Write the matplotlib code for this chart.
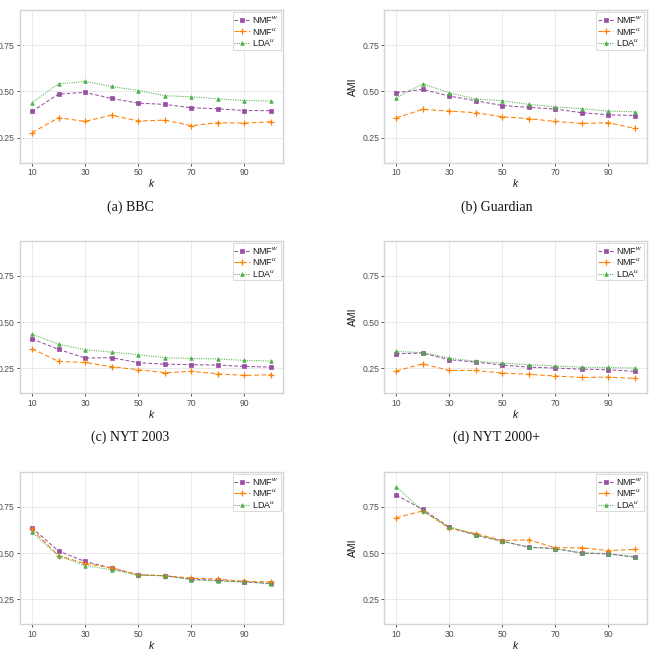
import matplotlib
matplotlib.use("Agg")
import matplotlib.pyplot as plt

k_values = [10, 20, 30, 40, 50, 60, 70, 80, 90, 100]
x_ticks = [10, 30, 50, 70, 90]
y_ticks = [0.25, 0.50, 0.75]
series_names = ["NMF$^{w}$", "NMF$^{u}$", "LDA$^{u}$"]
captions = ["(a) BBC", "(b) Guardian", "(c) NYT 2003", "(d) NYT 2000+", None, None]

bbc_nmf_w = [0.392, 0.486, 0.495, 0.462, 0.437, 0.430, 0.412, 0.406, 0.397, 0.396]
bbc_nmf_u = [0.277, 0.358, 0.338, 0.372, 0.340, 0.345, 0.315, 0.331, 0.329, 0.336]
bbc_lda_u = [0.439, 0.541, 0.554, 0.527, 0.505, 0.477, 0.471, 0.460, 0.451, 0.448]

guardian_nmf_w = [0.493, 0.511, 0.475, 0.450, 0.424, 0.414, 0.405, 0.385, 0.374, 0.370]
guardian_nmf_u = [0.358, 0.403, 0.394, 0.385, 0.363, 0.353, 0.338, 0.327, 0.331, 0.300]
guardian_lda_u = [0.466, 0.541, 0.493, 0.459, 0.450, 0.430, 0.417, 0.406, 0.394, 0.390]

nyt2003_nmf_w = [0.410, 0.353, 0.306, 0.308, 0.281, 0.273, 0.270, 0.268, 0.261, 0.257]
nyt2003_nmf_u = [0.356, 0.288, 0.282, 0.259, 0.243, 0.227, 0.234, 0.221, 0.212, 0.216]
nyt2003_lda_u = [0.435, 0.381, 0.351, 0.338, 0.324, 0.308, 0.304, 0.301, 0.293, 0.290]

nyt2000_nmf_w = [0.329, 0.333, 0.297, 0.284, 0.268, 0.257, 0.252, 0.246, 0.243, 0.234]
nyt2000_nmf_u = [0.236, 0.275, 0.239, 0.239, 0.225, 0.218, 0.209, 0.201, 0.203, 0.196]
nyt2000_lda_u = [0.342, 0.335, 0.306, 0.288, 0.279, 0.270, 0.263, 0.257, 0.255, 0.252]

wiki_hi_nmf_w = [0.637, 0.511, 0.455, 0.419, 0.383, 0.378, 0.360, 0.353, 0.345, 0.336]
wiki_hi_nmf_u = [0.628, 0.487, 0.444, 0.421, 0.383, 0.378, 0.365, 0.360, 0.347, 0.345]
wiki_hi_lda_u = [0.613, 0.486, 0.433, 0.410, 0.381, 0.378, 0.356, 0.349, 0.344, 0.335]

wiki_lo_nmf_w = [0.813, 0.737, 0.640, 0.597, 0.565, 0.532, 0.525, 0.500, 0.496, 0.478]
wiki_lo_nmf_u = [0.691, 0.728, 0.635, 0.606, 0.568, 0.572, 0.529, 0.529, 0.514, 0.520]
wiki_lo_lda_u = [0.860, 0.727, 0.642, 0.599, 0.563, 0.532, 0.523, 0.502, 0.498, 0.480]

panels = [
    (bbc_nmf_w, bbc_nmf_u, bbc_lda_u),
    (guardian_nmf_w, guardian_nmf_u, guardian_lda_u),
    (nyt2003_nmf_w, nyt2003_nmf_u, nyt2003_lda_u),
    (nyt2000_nmf_w, nyt2000_nmf_u, nyt2000_lda_u),
    (wiki_hi_nmf_w, wiki_hi_nmf_u, wiki_hi_lda_u),
    (wiki_lo_nmf_w, wiki_lo_nmf_u, wiki_lo_lda_u),
]

styles = [
    dict(color="#984ea3", linestyle=(0, (3.5, 2)), marker="s", markersize=2.2, markeredgewidth=0.5),
    dict(color="#ff7f00", linestyle=(0, (4.5, 2.5)), marker="+", markersize=5, markeredgewidth=0.9),
    dict(color="#4daf4a", linestyle=(0, (1, 1.2)), marker="^", markersize=2.6, markeredgewidth=0.5),
]

plt.rcParams["font.family"] = ["Liberation Sans", "DejaVu Sans"]
plt.rcParams["mathtext.fontset"] = "custom"
plt.rcParams["mathtext.rm"] = "Liberation Sans"
plt.rcParams["mathtext.it"] = "Liberation Sans:italic"

W, H = 665, 653
fig = plt.figure(figsize=(W / 100, H / 100), dpi=100)

col_left = [20, 384.3]
col_w = [263, 262.4]
row_top = [10, 240.7, 471.7]
row_h = 152.7
caption_x = [130, 497]

for i, data in enumerate(panels):
    r, c = divmod(i, 2)
    left = col_left[c] / W
    bottom = 1 - (row_top[r] + row_h) / H
    ax = fig.add_axes([left, bottom, col_w[c] / W, row_h / H])
    for vals, name, st in zip(data, series_names, styles):
        ax.plot(k_values, vals, label=name, linewidth=0.75, **st)
    ax.set_xlim(5.5, 104.5)
    ax.set_ylim(0.115, 0.94)
    ax.set_xticks(x_ticks)
    ax.set_yticks(y_ticks)
    ax.set_yticklabels([f"{v:.2f}" for v in y_ticks])
    ax.grid(True, color="#e6e6e6", linewidth=0.6)
    ax.set_axisbelow(True)
    for sp in ax.spines.values():
        sp.set_color("#d4d4d4")
        sp.set_linewidth(1.0)
    ax.tick_params(axis="both", labelsize=6.2, colors="#4d4d4d", length=2.2, width=0.6, pad=1.5)
    ax.tick_params(axis="both", color="#333333")
    ax.set_xlabel("k", fontsize=7.5, style="italic", color="#1a1a1a", labelpad=1.5)
    ax.set_ylabel("AMI", fontsize=7.5, color="#1a1a1a", labelpad=3)
    leg = ax.legend(loc="upper right", fontsize=6.5, frameon=True, fancybox=False,
                    handlelength=1.7, handletextpad=0.3, borderpad=0.2,
                    labelspacing=0.05, borderaxespad=0.25)
    leg.get_frame().set_edgecolor("#cccccc")
    leg.get_frame().set_linewidth(0.6)
    for t in leg.get_texts():
        t.set_color("#1a1a1a")
    if captions[i]:
        cx = caption_x[c] / W
        cy = 1 - (row_top[r] + 197) / H
        fig.text(cx, cy, captions[i], ha="center", va="center",
                 fontsize=10, family=["Liberation Serif", "DejaVu Serif"], color="#111111")

fig.savefig("out.png", dpi=100)
